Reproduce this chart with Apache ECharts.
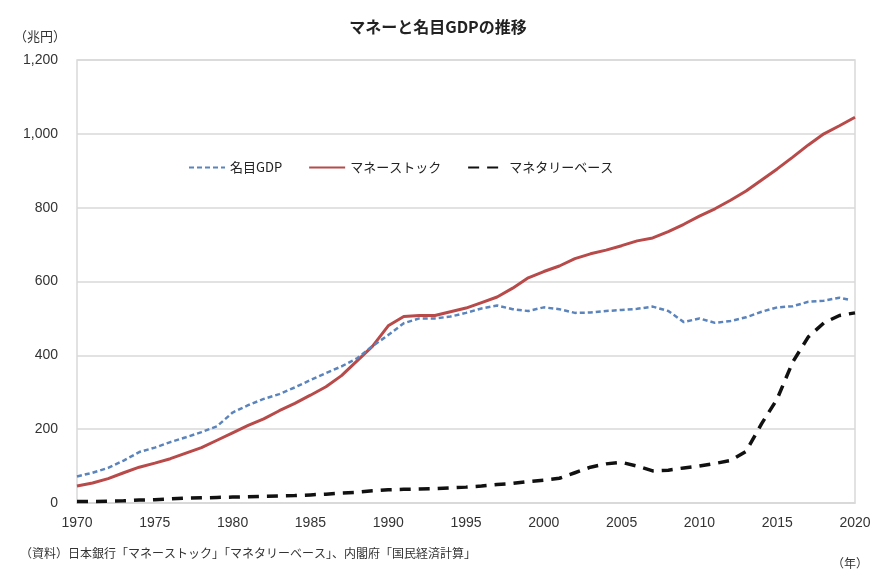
<!DOCTYPE html>
<html>
<head>
<meta charset="utf-8">
<script src="https://cdn.jsdelivr.net/npm/echarts@6/dist/echarts.min.js"></script>
<style>html,body{margin:0;padding:0;background:#fff;}#c{width:876px;height:572px;}</style>
</head>
<body>
<div id="c"></div>
<script>
const years = [1970,1971,1972,1973,1974,1975,1976,1977,1978,1979,1980,1981,1982,1983,1984,1985,1986,1987,1988,1989,1990,1991,1992,1993,1994,1995,1996,1997,1998,1999,2000,2001,2002,2003,2004,2005,2006,2007,2008,2009,2010,2011,2012,2013,2014,2015,2016,2017,2018,2019,2020];
const gdpYears = [1970,1971,1972,1973,1974,1975,1976,1977,1978,1979,1980,1981,1982,1983,1984,1985,1986,1987,1988,1989,1990,1991,1992,1993,1994,1995,1996,1997,1998,1999,2000,2001,2002,2003,2004,2005,2006,2007,2008,2009,2010,2011,2012,2013,2014,2015,2016,2017,2018,2019,2019.7];
const nominalGDP = [72,82,95,115,138,150,165,178,192,208,245,265,282,295,313,333,352,370,392,425,455,487,500,500,505,515,527,535,525,520,530,525,515,516,520,523,526,532,520,490,500,488,493,503,518,530,533,545,548,556,550];
const moneyStock = [46,54,66,82,97,108,120,135,150,170,190,210,228,250,270,292,315,345,385,425,480,505,508,508,518,528,543,558,582,610,627,642,662,675,685,697,710,718,735,755,777,797,820,845,875,905,937,970,1000,1022,1045];
const monetaryBase = [4,4,5,6,8,9,11,13,14,15,16,17,18,19,20,22,24,27,29,33,36,37,38,39,41,43,46,50,53,58,62,67,82,97,106,110,100,87,89,95,100,107,115,140,215,282,382,450,488,508,515];
const seriesNames = ['名目GDP','マネーストック','マネタリーベース'];

const pair = (xs, ys) => xs.map((x, i) => [x, ys[i]]);
const cjk = '"Noto Sans CJK JP", sans-serif';
const num = '"Liberation Sans", "Noto Sans", sans-serif';

const chart = echarts.init(document.getElementById('c'), null, {renderer: 'canvas'});
chart.setOption({
  backgroundColor: '#ffffff',
  animation: false,
  title: {
    text: 'マネーと名目GDPの推移',
    left: 'center', top: 14,
    textStyle: {fontFamily: cjk, fontSize: 16, fontWeight: 'bold', color: '#222'}
  },
  legend: {
    left: 183, top: 156,
    itemGap: 26, itemWidth: 36, itemHeight: 14,
    itemStyle: {opacity: 0},
    textStyle: {fontFamily: cjk, fontSize: 13, color: '#222'},
    data: seriesNames
  },
  grid: {left: 77, right: 21, top: 60, bottom: 69, show: true, borderColor: '#d9d9d9', borderWidth: 1.5},
  xAxis: {
    type: 'value', min: 1970, max: 2020, interval: 5,
    axisLine: {show: true, lineStyle: {color: '#d9d9d9', width: 1.5}},
    axisTick: {show: false},
    splitLine: {show: false},
    axisLabel: {formatter: v => String(v), margin: 13, fontFamily: num, fontSize: 14, color: '#333'}
  },
  yAxis: {
    type: 'value', min: 0, max: 1200, interval: 200,
    axisLine: {show: false}, axisTick: {show: false},
    splitLine: {lineStyle: {color: '#d9d9d9', width: 1.5}},
    axisLabel: {margin: 19, fontFamily: num, fontSize: 14, color: '#333'}
  },
  series: [
    {name: seriesNames[0], type: 'line', data: pair(gdpYears, nominalGDP), showSymbol: false, symbol: 'none',
     lineStyle: {color: '#5b84bc', width: 2.5, type: [5, 3]}, itemStyle: {color: '#5b84bc'}, z: 3},
    {name: seriesNames[1], type: 'line', data: pair(years, moneyStock), showSymbol: false, symbol: 'none',
     lineStyle: {color: '#b84a4a', width: 3}, itemStyle: {color: '#b84a4a'}, z: 2},
    {name: seriesNames[2], type: 'line', data: pair(years, monetaryBase), showSymbol: false, symbol: 'none',
     lineStyle: {color: '#111', width: 3.5, type: [11, 8]}, itemStyle: {color: '#111'}, z: 4}
  ],
  graphic: [
    {type: 'text', left: 14, top: 30, style: {text: '（兆円）', font: '13px "Noto Sans CJK JP"', fill: '#333'}},
    {type: 'text', left: 20, top: 547, style: {text: '（資料）日本銀行「マネーストック」「マネタリーベース」、内閣府「国民経済計算」', font: '12px "Noto Sans CJK JP"', fill: '#333'}},
    {type: 'text', right: 8, top: 557, style: {text: '（年）', font: '12px "Noto Sans CJK JP"', fill: '#333'}}
  ]
});
</script>
</body>
</html>
